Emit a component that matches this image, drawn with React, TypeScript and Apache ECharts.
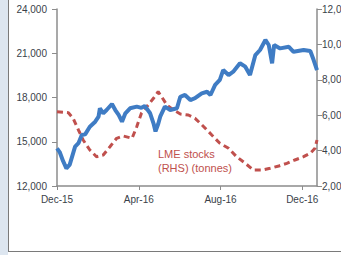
import React, { useEffect, useRef } from "react";
import * as echarts from "echarts";

const priceDates = [
  "2015-12-01","2015-12-05","2015-12-10","2015-12-15","2015-12-20","2015-12-28","2016-01-02","2016-01-07",
  "2016-01-12","2016-01-19","2016-01-27","2016-02-01","2016-02-03","2016-02-08","2016-02-13","2016-02-21",
  "2016-02-26","2016-03-02","2016-03-07","2016-03-12","2016-03-19","2016-03-29","2016-04-05","2016-04-10",
  "2016-04-18","2016-04-23","2016-04-26","2016-04-30","2016-05-03","2016-05-10","2016-05-18","2016-05-28",
  "2016-06-02","2016-06-09","2016-06-17","2016-06-24","2016-07-04","2016-07-12","2016-07-17","2016-07-24",
  "2016-07-31","2016-08-05","2016-08-13","2016-08-20","2016-08-30","2016-09-07","2016-09-14","2016-09-22",
  "2016-09-29","2016-10-07","2016-10-12","2016-10-17","2016-10-20","2016-10-29","2016-11-11","2016-11-18",
  "2016-12-03","2016-12-13","2016-12-18","2016-12-23"
];
const priceValues = [
  14556,14300,13700,13200,13450,14665,14900,15460,
  15500,16020,16360,16700,17270,16930,17150,17560,
  17150,16815,16360,16930,17270,17380,17300,17420,
  16930,16250,15700,16200,16700,17380,17150,17270,
  18050,18170,17830,17950,18280,18390,18170,18850,
  19190,19860,19520,19750,20320,20090,19520,20880,
  21220,21900,21560,20320,21560,21330,21440,21100,
  21220,21150,20540,19860
];

const stockDates = [
  "2015-12-01","2015-12-18","2015-12-25","2016-01-02","2016-01-09","2016-01-19","2016-01-29","2016-02-08",
  "2016-02-18","2016-02-28","2016-03-09","2016-03-22","2016-03-29","2016-04-05","2016-04-13","2016-04-23",
  "2016-04-30","2016-05-05","2016-05-13","2016-05-23","2016-06-02","2016-06-14","2016-06-24","2016-07-07",
  "2016-07-19","2016-07-31","2016-08-13","2016-08-25","2016-09-07","2016-09-19","2016-10-02","2016-10-14",
  "2016-10-27","2016-11-08","2016-11-20","2016-12-03","2016-12-13","2016-12-20","2016-12-23"
];
const stockValues = [
  6198,6141,5825,5164,4600,4034,3655,3750,
  4220,4695,4825,4695,5350,6107,6480,6955,
  7328,7045,6576,6294,6068,6011,5825,5350,
  4880,4412,4130,3655,3280,2904,2904,3000,
  3130,3280,3470,3655,3850,4130,4600
];

const tickDates = ["2015-12-01", "2016-04-01", "2016-08-01", "2016-12-01"];
const tickLabels = ["Dec-15", "Apr-16", "Aug-16", "Dec-16"];
const axisStart = "2015-12-01";
const axisEnd = "2016-12-23";

const annotationLines = ["LME stocks", "(RHS) (tonnes)"];

const startMs = Date.parse(axisStart);
const toDay = (s: string) => (Date.parse(s) - startMs) / 86400000;
const fmt = (v: number) => v.toLocaleString("en-US");

export default function App() {
  const ref = useRef<HTMLDivElement>(null);
  useEffect(() => {
    if (!ref.current) return;
    const chart = echarts.init(ref.current, null, { renderer: "svg" });
    const tickDays = tickDates.map(toDay);
    const labelFont = { fontFamily: "Liberation Sans, Arial, sans-serif", fontSize: 10, color: "#3a3f4a" };
    chart.setOption({
      animation: false,
      backgroundColor: "#ffffff",
      grid: { left: 57, right: 24, top: 9, bottom: 69, containLabel: false, outerBoundsMode: "none" },
      xAxis: {
        type: "value",
        min: 0,
        max: toDay(axisEnd),
        axisLine: { show: true, lineStyle: { color: "#8c8c8c", width: 1.5 } },
        axisTick: { show: true, customValues: tickDays, length: 4, lineStyle: { color: "#8c8c8c" } },
        axisLabel: {
          ...labelFont,
          margin: 8,
          customValues: tickDays,
          formatter: (v: number) => {
            const i = tickDays.findIndex((d) => Math.abs(d - v) < 0.5);
            return i >= 0 ? tickLabels[i] : "";
          },
        },
        splitLine: { show: false },
      },
      yAxis: [
        {
          type: "value",
          min: 12000,
          max: 24000,
          interval: 3000,
          position: "left",
          axisLine: { show: true, lineStyle: { color: "#8c8c8c", width: 1.5 } },
          axisTick: { show: true, length: 5, lineStyle: { color: "#8c8c8c" } },
          axisLabel: { ...labelFont, margin: 10, formatter: (v: number) => fmt(v) },
          splitLine: { show: false },
        },
        {
          type: "value",
          min: 2000,
          max: 12000,
          interval: 2000,
          position: "right",
          axisLine: { show: true, lineStyle: { color: "#8c8c8c", width: 1.5 } },
          axisTick: { show: true, length: 5, lineStyle: { color: "#8c8c8c" } },
          axisLabel: { ...labelFont, margin: 5, formatter: (v: number) => fmt(v) },
          splitLine: { show: false },
        },
      ],
      series: [
        {
          type: "line",
          yAxisIndex: 1,
          data: stockDates.map((d, i) => [toDay(d), stockValues[i]]),
          showSymbol: false,
          lineStyle: { color: "#c0504d", width: 3, type: [6, 4] },
          z: 2,
        },
        {
          type: "line",
          yAxisIndex: 0,
          data: priceDates.map((d, i) => [toDay(d), priceValues[i]]),
          showSymbol: false,
          lineStyle: { color: "#3f7cc4", width: 4 },
          z: 3,
        },
      ],
      graphic: [
        { type: "rect", shape: { x: 0, y: 0, width: 8, height: 255 }, style: { fill: "#dde6f0" } },
        { type: "line", shape: { x1: 8.5, y1: 0, x2: 8.5, y2: 251 }, style: { stroke: "#7a7a7a", lineWidth: 1 } },
        { type: "line", shape: { x1: 8, y1: 251.5, x2: 341, y2: 251.5 }, style: { stroke: "#7a7a7a", lineWidth: 1 } },
        {
          type: "text",
          x: 158,
          y: 147,
          style: {
            text: annotationLines.join("\n"),
            fill: "#c0504d",
            font: "11px 'Liberation Sans', Arial, sans-serif",
            lineHeight: 14,
          },
        },
      ],
    });
    return () => chart.dispose();
  }, []);
  return (
    <div
      ref={ref}
      style={{ position: "fixed", left: 0, top: 0, width: 341, height: 255, overflow: "hidden" }}
    />
  );
}
